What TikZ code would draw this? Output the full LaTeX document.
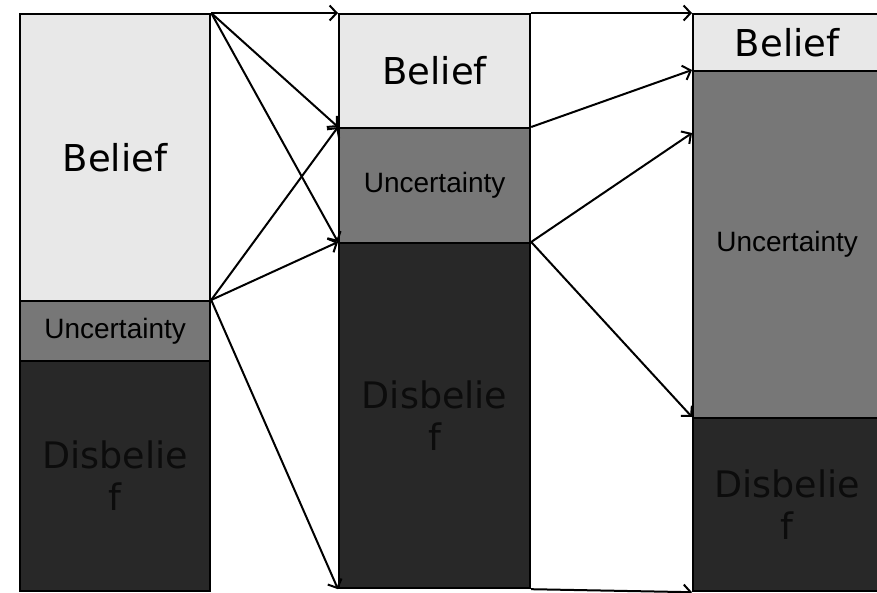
\documentclass[tikz,border=0pt]{standalone}
\usepackage{fontspec}
\setmainfont{DejaVu Sans}
\newfontfamily\arialfont{Liberation Sans}
\usetikzlibrary{arrows.meta}
\definecolor{belcol}{HTML}{E8E8E8}
\definecolor{unccol}{HTML}{777777}
\definecolor{discol}{HTML}{282828}
\definecolor{distext}{HTML}{0C0C0C}
\tikzset{
  seg/.style={draw=black, line width=2.2pt, inner sep=0pt, anchor=north west, align=center},
  belbox/.style={seg, fill=belcol, font=\fontsize{37}{42}\selectfont},
  uncbox/.style={seg, fill=unccol, font=\arialfont\fontsize{28}{32}\selectfont},
  disbox/.style={seg, fill=discol, text=distext, font=\fontsize{36.5}{42}\selectfont},
  flow/.style={line width=2pt, -{Straight Barb[length=7pt,width=15pt,line width=2pt]}}
}
\begin{document}
\begin{tikzpicture}[x=1pt,y=-1pt]
\useasboundingbox (0,0) rectangle (877,593);
% column 1
\node[belbox, minimum width=190pt, minimum height=287pt] (b1) at (19,13) {Belief};
\node[uncbox, minimum width=190pt, minimum height=60pt] (u1) at (19,300) {Uncertainty};
\node[disbox, minimum width=190pt, minimum height=230pt] (d1) at (19,360) {Disbelie\\f};
% column 2
\node[belbox, minimum width=191pt, minimum height=114pt] (b2) at (338,13) {Belief};
\node[uncbox, minimum width=191pt, minimum height=115pt] (u2) at (338,127) {Uncertainty};
\node[disbox, minimum width=191pt, minimum height=345pt] (d2) at (338,242) {Disbelie\\f};
% column 3
\node[belbox, minimum width=188pt, minimum height=57pt] (b3) at (692,13) {Belief};
\node[uncbox, minimum width=188pt, minimum height=347pt] (u3) at (692,70) {Uncertainty};
\node[disbox, minimum width=188pt, minimum height=173pt] (d3) at (692,417) {Disbelie\\f};
\coordinate (m3) at (692,133);
% arrows column 1 -> column 2
\draw[flow] (b1.north east) -- (b2.north west);
\draw[flow] (b1.north east) -- (u2.north west);
\draw[flow] (b1.north east) -- (d2.north west);
\draw[flow] (u1.north east) -- (u2.north west);
\draw[flow] (u1.north east) -- (d2.north west);
\draw[flow] (u1.north east) -- (d2.south west);
% arrows column 2 -> column 3
\draw[flow] (b2.north east) -- (b3.north west);
\draw[flow] (u2.north east) -- (u3.north west);
\draw[flow] (d2.north east) -- (m3);
\draw[flow] (d2.north east) -- (d3.north west);
\draw[flow] (d2.south east) -- (d3.south west);
\end{tikzpicture}
\end{document}
